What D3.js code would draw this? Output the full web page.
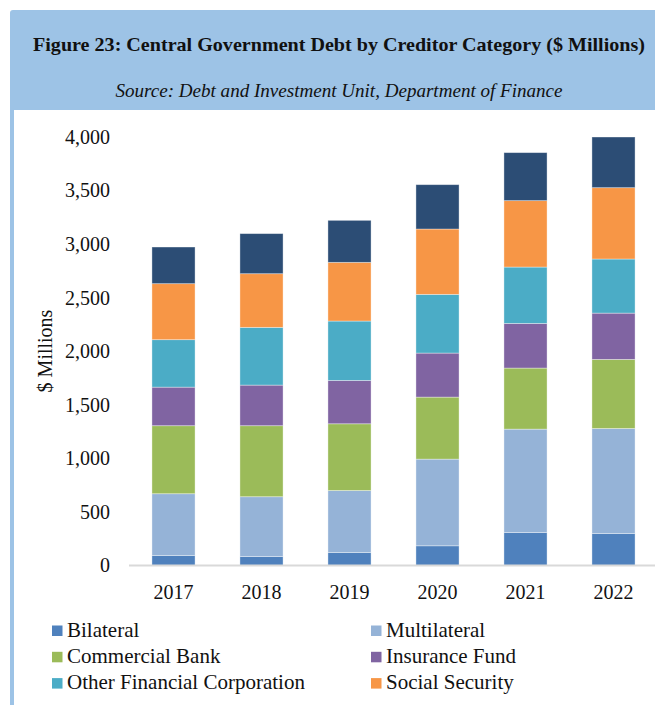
<!DOCTYPE html>
<html>
<head>
<meta charset="utf-8">
<script src="https://cdn.jsdelivr.net/npm/d3@7"></script>
<style>
  html, body { margin: 0; padding: 0; background: #fff; }
  svg { display: block; }
  text { font-family: "Liberation Serif", "DejaVu Serif", serif; fill: #111; }
</style>
</head>
<body>
<svg id="chart" width="655" height="705"></svg>
<script>
// Years on the x axis
const years = ["2017", "2018", "2019", "2020", "2021", "2022"];

// Debt held by each creditor category, $ millions
const bilateral        = [93, 84, 121, 184, 308, 299];
const multilateral     = [577, 558, 579, 809, 965, 980];
const commercialBank   = [635, 663, 623, 579, 570, 645];
const insuranceFund    = [360, 379, 405, 411, 417, 432];
const otherFinancial   = [443, 539, 554, 548, 526, 505];
const socialSecurity   = [523, 501, 548, 610, 620, 666];
const remainder        = [342, 374, 392, 414, 448, 473];

// Y axis tick values
const yTicks = [0, 500, 1000, 1500, 2000, 2500, 3000, 3500, 4000];

const series = [
  { key: "Bilateral", values: bilateral, color: "#4F81BD", legend: true },
  { key: "Multilateral", values: multilateral, color: "#95B3D7", legend: true },
  { key: "Commercial Bank", values: commercialBank, color: "#9BBB59", legend: true },
  { key: "Insurance Fund", values: insuranceFund, color: "#8064A2", legend: true },
  { key: "Other Financial Corporation", values: otherFinancial, color: "#4BACC6", legend: true },
  { key: "Social Security", values: socialSecurity, color: "#F79646", legend: true },
  { key: "Remainder", values: remainder, color: "#2C4D75", legend: false }
];

const rows = years.map((y, i) => {
  const r = { year: y };
  series.forEach(s => { r[s.key] = s.values[i]; });
  return r;
});

const svg = d3.select("#chart");
const FONT = "'Liberation Serif', serif";

// Frame: blue header band with a blue strip down the left edge
svg.append("rect").attr("x", 10).attr("y", 10).attr("width", 660).attr("height", 720)
  .attr("rx", 3).attr("fill", "#9DC3E6");
svg.append("rect").attr("x", 14).attr("y", 110).attr("width", 660).attr("height", 620)
  .attr("fill", "#fff");

svg.append("text").attr("x", 339).attr("y", 51).attr("text-anchor", "middle")
  .attr("font-size", 19).attr("font-weight", "bold")
  .attr("textLength", 612).attr("lengthAdjust", "spacingAndGlyphs")
  .text("Figure 23: Central Government Debt by Creditor Category ($ Millions)");

svg.append("text").attr("x", 339).attr("y", 97).attr("text-anchor", "middle")
  .attr("font-size", 18.5).attr("font-style", "italic")
  .attr("textLength", 447).attr("lengthAdjust", "spacingAndGlyphs")
  .text("Source: Debt and Investment Unit, Department of Finance");

// Scales
const x = d3.scaleBand().domain(years).range([129.5, 657.5]).paddingInner(0.51).paddingOuter(0.255);
const y = d3.scaleLinear().domain([0, 4000]).range([565.5, 137]);

const stack = d3.stack().keys(series.map(s => s.key));
const layers = stack(rows);

const g = svg.append("g");
g.selectAll("g.layer").data(layers).join("g")
  .attr("class", "layer")
  .attr("fill", (d, i) => series[i].color)
  .selectAll("rect").data(d => d).join("rect")
  .attr("x", d => x(d.data.year))
  .attr("width", x.bandwidth())
  .attr("y", d => y(d[1]))
  .attr("height", d => y(d[0]) - y(d[1]))
  .attr("stroke", "rgba(255,255,255,0.45)")
  .attr("stroke-width", 0.8);

// Y axis labels
const yAxis = d3.axisLeft(y).tickValues(yTicks).tickSize(0).tickPadding(0)
  .tickFormat(d3.format(","));
const ya = svg.append("g").attr("transform", "translate(110,0)").call(yAxis);
ya.select(".domain").remove();
ya.selectAll("text").attr("font-size", 20).attr("fill", "#111")
  .attr("font-family", FONT);

// X axis baseline and labels
const xAxis = d3.axisBottom(x).tickSize(0).tickPadding(19);
const xa = svg.append("g").attr("transform", `translate(0,${y(0)})`).call(xAxis);
xa.select(".domain").attr("stroke", "#D9D9D9").attr("stroke-width", 2)
  .attr("d", "M129,0H655");
xa.selectAll("text").attr("font-size", 20).attr("fill", "#111")
  .attr("font-family", FONT);

// Y axis title
svg.append("text").attr("transform", "translate(52,351) rotate(-90)")
  .attr("text-anchor", "middle").attr("font-size", 20)
  .text("$ Millions");

// Legend in two columns
const legendItems = series.filter(s => s.legend);
const lg = svg.append("g");
legendItems.forEach((s, i) => {
  const col = i % 2, row = Math.floor(i / 2);
  const lx = col === 0 ? 52 : 371;
  const ly = 636.5 + row * 26.3;
  lg.append("rect").attr("x", lx).attr("y", ly - 11).attr("width", 10.5).attr("height", 10.5)
    .attr("fill", s.color);
  lg.append("text").attr("x", lx + 15).attr("y", ly).attr("font-size", 21)
    .text(s.key);
});
</script>
</body>
</html>
